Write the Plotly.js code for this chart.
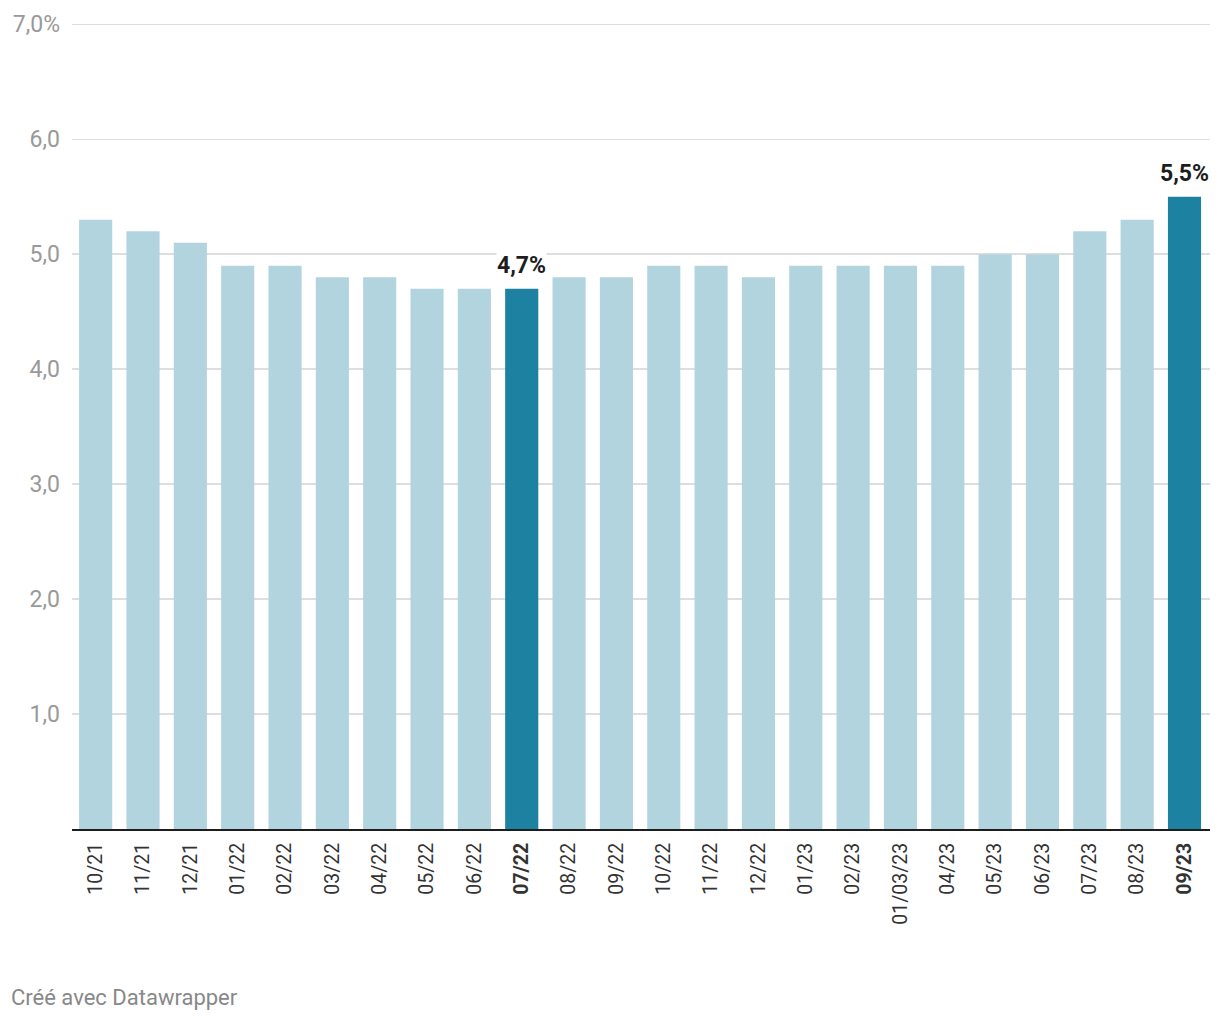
<!DOCTYPE html>
<html>
<head>
<meta charset="utf-8">
<script src="https://cdn.plot.ly/plotly-3.0.1.min.js"></script>
<style>html,body{margin:0;padding:0;background:#fff;}#chart{width:1220px;height:1020px;}</style>
</head>
<body>
<div id="chart"></div>
<script>
const categories = ["10/21","11/21","12/21","01/22","02/22","03/22","04/22","05/22","06/22","07/22","08/22","09/22","10/22","11/22","12/22","01/23","02/23","01/03/23","04/23","05/23","06/23","07/23","08/23","09/23"];
const values = [5.3,5.2,5.1,4.9,4.9,4.8,4.8,4.7,4.7,4.7,4.8,4.8,4.9,4.9,4.8,4.9,4.9,4.9,4.9,5.0,5.0,5.2,5.3,5.5];
const highlighted = ["07/22","09/23"];
const yTickVals = [1,2,3,4,5,6,7];
const yTickText = ["1,0","2,0","3,0","4,0","5,0","6,0","7,0%"];
const footer = "Créé avec Datawrapper";

const lightColor = "#b2d4de";
const darkColor = "#1d81a2";
const colors = categories.map(c => highlighted.includes(c) ? darkColor : lightColor);
const tickText = categories.map(c => highlighted.includes(c) ? "<b>" + c + "</b>" : c);

const fmt = v => v.toFixed(1).replace(".", ",") + "%";

const annotations = highlighted.map(c => {
  const i = categories.indexOf(c);
  return {
    x: c, y: values[i], xref: "x", yref: "y",
    text: "<b>" + fmt(values[i]) + "</b>",
    showarrow: false, yanchor: "bottom", yshift: 9,
    bgcolor: "#ffffff", borderpad: 0,
    font: {family: "Roboto", size: 23, color: "#1d1d1d"}
  };
});
const plotL = 72, plotW = 1138, plotT = 22, plotH = 807;
annotations.push({
  xref: "paper", yref: "paper",
  x: (9 - plotL) / plotW, y: -(997 - (plotT + plotH)) / plotH,
  xanchor: "left", yanchor: "middle",
  text: footer, showarrow: false,
  font: {family: "Roboto", size: 22, color: "#888888"}
});

const trace = {
  type: "bar",
  x: categories,
  y: values,
  marker: {color: colors},
  hoverinfo: "x+y"
};

const layout = {
  width: 1220, height: 1020,
  margin: {l: 72, r: 10, t: 22, b: 191, pad: 0},
  paper_bgcolor: "#ffffff",
  plot_bgcolor: "#ffffff",
  bargap: 0.3,
  showlegend: false,
  xaxis: {
    type: "category",
    tickmode: "array",
    tickvals: categories,
    ticktext: tickText,
    tickangle: -90,
    ticks: "",
    showgrid: false,
    showline: true,
    linecolor: "#1d1d1d",
    linewidth: 2,
    ticklabelstandoff: 4,
    tickfont: {family: "Roboto", size: 19.5, color: "#333333"},
    fixedrange: true
  },
  yaxis: {
    range: [0, 7.02],
    tickmode: "array",
    tickvals: yTickVals,
    ticktext: yTickText,
    showgrid: true,
    gridcolor: "#dedede",
    gridwidth: 1.5,
    zeroline: false,
    showline: false,
    ticks: "",
    ticklabelstandoff: 11,
    tickfont: {family: "Roboto", size: 23, color: "#999999"},
    fixedrange: true
  },
  annotations: annotations
};

Plotly.newPlot("chart", [trace], layout, {displayModeBar: false, staticPlot: true});
</script>
</body>
</html>
